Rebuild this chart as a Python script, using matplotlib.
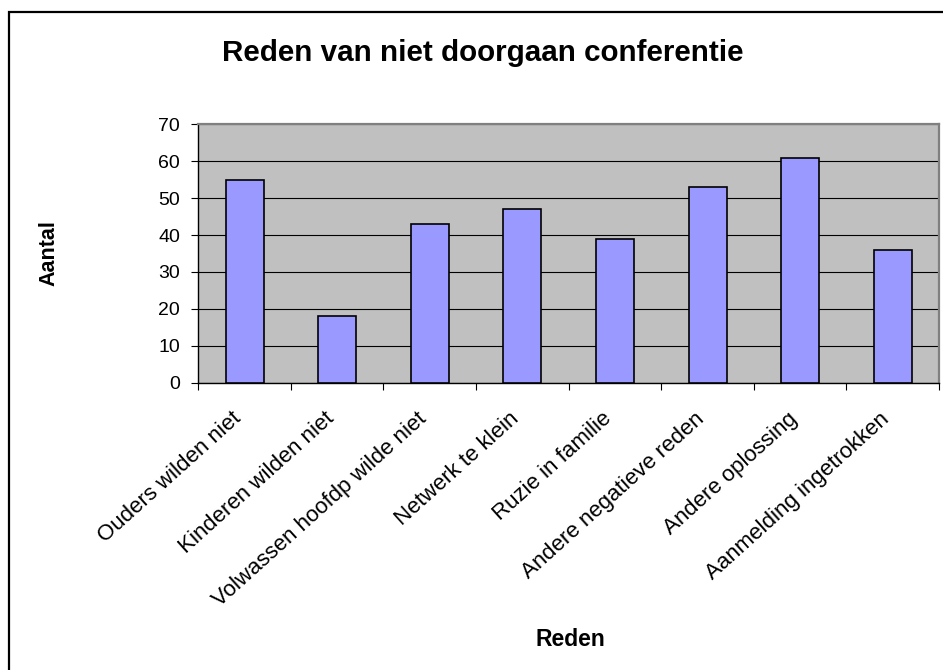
import matplotlib
matplotlib.use("Agg")
import matplotlib.pyplot as plt
from matplotlib.patches import Rectangle
from matplotlib.transforms import ScaledTranslation
import numpy as np

plt.rcParams['font.family'] = ['Liberation Sans', 'DejaVu Sans']

categories = ["Ouders wilden niet", "Kinderen wilden niet", "Volwassen hoofdp wilde niet",
              "Netwerk te klein", "Ruzie in familie", "Andere negatieve reden",
              "Andere oplossing", "Aanmelding ingetrokken"]
values = [55, 18, 43, 47, 39, 53, 61, 36]
yticks = [0, 10, 20, 30, 40, 50, 60, 70]

title = "Reden van niet doorgaan conferentie"
xlabel = "Reden"
ylabel = "Aantal"

W, H = 943, 670
fig = plt.figure(figsize=(W / 100, H / 100), dpi=100)
fig.patch.set_facecolor('white')

# outer frame
fig.add_artist(Rectangle((8.7 / W, -0.2), 1.3, 1 - 12.3 / H + 0.2, transform=fig.transFigure,
                         fill=False, edgecolor='black', linewidth=1.6))

left, right, top, bottom = 198.3, 939.0, 124.3, 382.7
ax = fig.add_axes([left / W, 1 - bottom / H, (right - left) / W, (bottom - top) / H])
ax.set_facecolor('#C0C0C0')

x = np.arange(len(categories))
ax.bar(x, values, width=0.41, color='#9999FF', edgecolor='black', linewidth=1.2, zorder=3)

ax.set_xlim(-0.5, len(categories) - 0.5)
ax.set_ylim(0, 70)
ax.set_yticks(yticks)
ax.set_yticklabels([str(v) for v in yticks])
ax.yaxis.grid(True, color='black', linewidth=0.8, zorder=1)
ax.set_axisbelow(True)

ax.tick_params(axis='y', direction='out', length=5, width=0.8, color='black', pad=8, labelsize=14)
ax.set_xticks(x)
ax.set_xticklabels(categories, rotation=42, ha='right', va='center', rotation_mode='anchor', fontsize=16)
ax.tick_params(axis='x', which='major', length=0, pad=24)
ax.set_xticks(np.arange(-0.5, len(categories), 1.0), minor=True)
ax.tick_params(axis='x', which='minor', direction='out', length=5, width=0.8, color='black')
off = ScaledTranslation(-6 / 100, 0, fig.dpi_scale_trans)
for lab in ax.get_xticklabels():
    lab.set_transform(lab.get_transform() + off)

for s in ['left', 'bottom']:
    ax.spines[s].set_color('black')
    ax.spines[s].set_linewidth(1.0)
for s in ['top', 'right']:
    ax.spines[s].set_color('#808080')
    ax.spines[s].set_linewidth(1.6)

ax.set_ylabel(ylabel, fontsize=15.5, fontweight='bold', va='center')
ax.yaxis.set_label_coords((48.5 - left) / (right - left), (bottom - 253) / (bottom - top))
ax.set_xlabel(xlabel, fontsize=16.5, fontweight='bold', va='center')
ax.xaxis.set_label_coords((570 - left) / (right - left), (bottom - 639) / (bottom - top))

fig.text(483 / W, 1 - 60.7 / H, title, ha='center', va='baseline', fontsize=21.3, fontweight='bold')

fig.savefig('out.png', dpi=100)
